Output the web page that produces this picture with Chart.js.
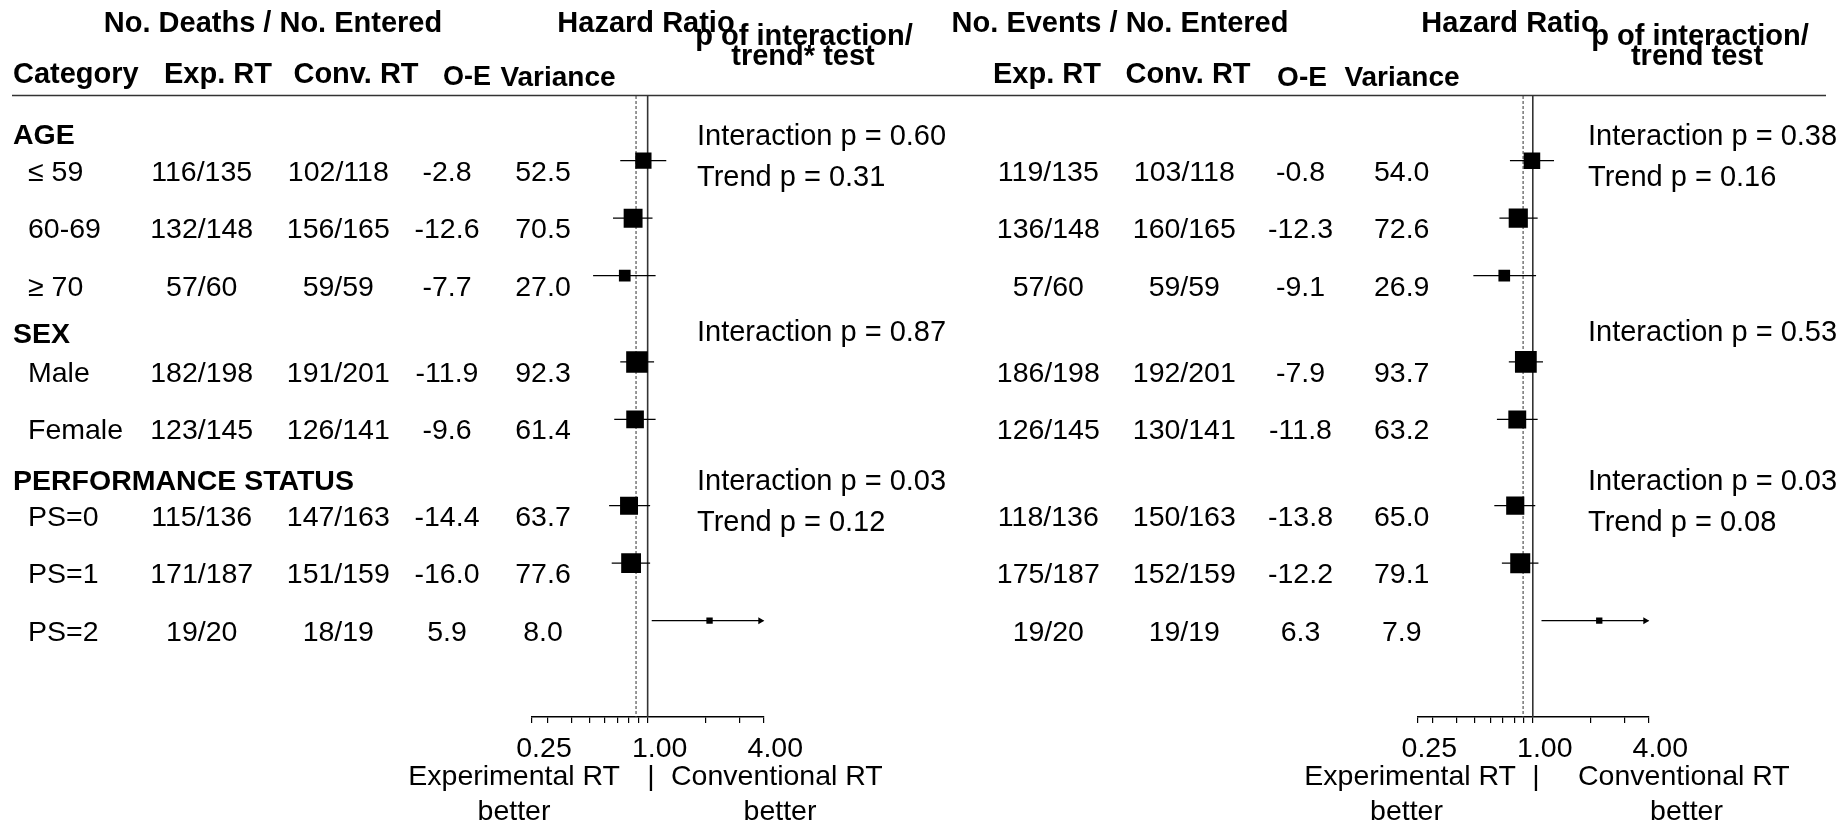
<!DOCTYPE html>
<html>
<head>
<meta charset="utf-8">
<title>Forest plot - deaths and events by subgroup</title>
<script src="https://cdn.jsdelivr.net/npm/chart.js@4.4.1/dist/chart.umd.min.js"></script>
<style>
  html, body { margin: 0; padding: 0; background: #fff; }
  #wrap { position: relative; width: 1842px; height: 825px; overflow: hidden; }
  #wrap canvas { position: absolute; left: 0; top: 0; }
</style>
</head>
<body>
<div id="wrap">
  <canvas id="deathsChart" width="1842" height="825"></canvas>
  <canvas id="eventsChart" width="1842" height="825"></canvas>
</div>
<script>
// ---- data ----
const categories = ['\u2264 59', '60-69', '\u2265 70', 'Male', 'Female', 'PS=0', 'PS=1', 'PS=2'];
const groups = ['AGE', 'SEX', 'PERFORMANCE STATUS'];

// left panel: deaths
const deathsExp = ['116/135', '132/148', '57/60', '182/198', '123/145', '115/136', '171/187', '19/20'];
const deathsConv = ['102/118', '156/165', '59/59', '191/201', '126/141', '147/163', '151/159', '18/19'];
const deathsOE = ['-2.8', '-12.6', '-7.7', '-11.9', '-9.6', '-14.4', '-16.0', '5.9'];
const deathsVar = [52.5, 70.5, 27.0, 92.3, 61.4, 63.7, 77.6, 8.0];
const deathsHR = [0.95, 0.84, 0.76, 0.88, 0.86, 0.80, 0.82, 2.10];
const deathsLo = [0.72, 0.66, 0.52, 0.72, 0.67, 0.63, 0.65, 1.05];
const deathsHi = [1.25, 1.06, 1.10, 1.08, 1.10, 1.03, 1.03, 4.18];
const deathsOverall = 0.87;
const deathsP = ['Interaction p = 0.60', 'Trend p = 0.31', 'Interaction p = 0.87', 'Interaction p = 0.03', 'Trend p = 0.12'];

// right panel: events
const eventsExp = ['119/135', '136/148', '57/60', '186/198', '126/145', '118/136', '175/187', '19/20'];
const eventsConv = ['103/118', '160/165', '59/59', '192/201', '130/141', '150/163', '152/159', '19/19'];
const eventsOE = ['-0.8', '-12.3', '-9.1', '-7.9', '-11.8', '-13.8', '-12.2', '6.3'];
const eventsVar = [54.0, 72.6, 26.9, 93.7, 63.2, 65.0, 79.1, 7.9];
const eventsHR = [0.99, 0.84, 0.71, 0.92, 0.83, 0.81, 0.86, 2.22];
const eventsLo = [0.76, 0.67, 0.49, 0.75, 0.65, 0.63, 0.69, 1.11];
const eventsHi = [1.29, 1.06, 1.04, 1.13, 1.06, 1.03, 1.07, 4.46];
const eventsOverall = 0.89;
const eventsP = ['Interaction p = 0.38', 'Trend p = 0.16', 'Interaction p = 0.53', 'Interaction p = 0.03', 'Trend p = 0.08'];

// axis ticks
const tickValues = [0.25, 0.3, 0.4, 0.5, 0.6, 0.7, 0.8, 0.9, 1, 2, 3, 4];
const tickLabels = ['0.25', '', '', '', '', '', '', '', '1.00', '', '', '4.00'];

// ---- layout (row units on the y scale, pixels for columns) ----
const rowPos = [0, 1, 2, 3.5, 4.5, 6, 7, 8];
const groupPos = [-0.43, 3.03, 5.59];
const pPos = [-0.41, 0.30, 3.0, 5.59, 6.30];
const TEXT_SHIFT = 0.21;
const FONT = "'Liberation Sans', Arial, Helvetica, sans-serif";
const W = 1842, H = 825;

const panels = [
  {
    id: 'deathsChart',
    axisLeft: 532, axisRight: 763.3,
    exp: deathsExp, conv: deathsConv, oe: deathsOE, variance: deathsVar,
    hr: deathsHR, lo: deathsLo, hi: deathsHi, overall: deathsOverall, pTexts: deathsP,
    cols: [201.7, 338.3, 447, 543],
    pX: 697,
    showCategories: true,
    headers: [
      ['No. Deaths / No. Entered', 273, 24, 'center', 29],
      ['Hazard Ratio', 646, 24, 'center', 29],
      ['p of interaction/', 804, 37, 'center', 29],
      ['trend* test', 803, 57, 'center', 29],
      ['Category', 13, 75, 'left', 29],
      ['Exp. RT', 218, 75, 'center', 29],
      ['Conv. RT', 356, 75, 'center', 29],
      ['O-E', 467, 78, 'center', 27],
      ['Variance', 558, 78, 'center', 28]
    ],
    footer: { exp: 620, bar: 651, conv: 671, better1: 514, better2: 780 }
  },
  {
    id: 'eventsChart',
    axisLeft: 1417.3, axisRight: 1648.3,
    exp: eventsExp, conv: eventsConv, oe: eventsOE, variance: eventsVar,
    hr: eventsHR, lo: eventsLo, hi: eventsHi, overall: eventsOverall, pTexts: eventsP,
    cols: [1048.3, 1184.3, 1300.5, 1401.7],
    pX: 1588,
    showCategories: false,
    headers: [
      ['No. Events / No. Entered', 1120, 24, 'center', 29],
      ['Hazard Ratio', 1510, 24, 'center', 29],
      ['p of interaction/', 1700, 37, 'center', 29],
      ['trend test', 1697, 57, 'center', 29],
      ['Exp. RT', 1047, 75, 'center', 29],
      ['Conv. RT', 1188, 75, 'center', 29],
      ['O-E', 1302, 78, 'center', 28],
      ['Variance', 1402, 78, 'center', 28]
    ],
    footer: { exp: 1516, bar: 1536, conv: 1578, better1: 1406.5, better2: 1686.5 }
  }
];

function txt(ctx, s, x, y, align, size, bold) {
  ctx.font = (bold ? 'bold ' : '') + size + 'px ' + FONT;
  ctx.textAlign = align;
  ctx.textBaseline = 'middle';
  ctx.fillText(s, x, y);
}

// table text, header rule and footer labels
function tablePlugin(p) {
  return {
    id: 'table_' + p.id,
    beforeDatasetsDraw(chart) {
      if (!p.showCategories) return;
      const ctx = chart.ctx;
      ctx.save();
      ctx.strokeStyle = '#333';
      ctx.lineWidth = 1.5;
      ctx.beginPath();
      ctx.moveTo(12, chart.chartArea.top - 0.5);
      ctx.lineTo(1826, chart.chartArea.top - 0.5);
      ctx.stroke();
      ctx.restore();
    },
    afterDraw(chart) {
      const ctx = chart.ctx;
      const ys = chart.scales.y;
      ctx.save();
      ctx.fillStyle = '#000';
      p.headers.forEach(h => txt(ctx, h[0], h[1], h[2], h[3], h[4], true));

      if (p.showCategories) {
        groups.forEach((g, i) => txt(ctx, g, 13, ys.getPixelForValue(groupPos[i]), 'left', 28.5, true));
      }
      rowPos.forEach((r, i) => {
        const y = ys.getPixelForValue(r + TEXT_SHIFT);
        if (p.showCategories) txt(ctx, categories[i], 28, y, 'left', 28.5, false);
        txt(ctx, p.exp[i], p.cols[0], y, 'center', 28.5, false);
        txt(ctx, p.conv[i], p.cols[1], y, 'center', 28.5, false);
        txt(ctx, p.oe[i], p.cols[2], y, 'center', 28.5, false);
        txt(ctx, p.variance[i].toFixed(1), p.cols[3], y, 'center', 28.5, false);
      });
      p.pTexts.forEach((s, i) => txt(ctx, s, p.pX, ys.getPixelForValue(pPos[i]), 'left', 29, false));

      const f = p.footer;
      txt(ctx, 'Experimental RT', f.exp, 777, 'right', 28.5, false);
      txt(ctx, '|', f.bar, 777, 'center', 28.5, false);
      txt(ctx, 'Conventional RT', f.conv, 777, 'left', 28.5, false);
      txt(ctx, 'better', f.better1, 812, 'center', 28.5, false);
      txt(ctx, 'better', f.better2, 812, 'center', 28.5, false);
      ctx.restore();
    }
  };
}

// arrow heads where the CI runs past the axis
function arrowPlugin(p) {
  return {
    id: 'arrow_' + p.id,
    afterDatasetsDraw(chart) {
      const xs = chart.scales.x, ys = chart.scales.y;
      const ctx = chart.ctx;
      ctx.save();
      ctx.fillStyle = '#000';
      p.hi.forEach((h, i) => {
        if (h <= xs.max) return;
        const x = xs.getPixelForValue(xs.max);
        const y = ys.getPixelForValue(rowPos[i]);
        ctx.beginPath();
        ctx.moveTo(x + 1, y);
        ctx.lineTo(x - 5, y - 3.5);
        ctx.lineTo(x - 5, y + 3.5);
        ctx.closePath();
        ctx.fill();
      });
      ctx.restore();
    }
  };
}

function makeForest(p) {
  const yMin = -1.125, yMax = 9.675;
  const datasets = [];

  // squares, size from variance
  datasets.push({
    data: rowPos.map((r, i) => ({ x: p.hr[i], y: r })),
    pointStyle: 'rect',
    pointRadius: p.variance.map(v => 2.25 * Math.sqrt(v) / Math.SQRT2),
    pointHoverRadius: p.variance.map(v => 2.25 * Math.sqrt(v) / Math.SQRT2),
    backgroundColor: '#000',
    borderColor: '#000',
    borderWidth: 0,
    order: 0
  });

  // confidence intervals
  rowPos.forEach((r, i) => {
    datasets.push({
      data: [{ x: p.lo[i], y: r }, { x: p.hi[i], y: r }],
      showLine: true,
      pointRadius: 0,
      borderColor: '#000',
      borderWidth: 1.2,
      order: 1
    });
  });

  // no effect line
  datasets.push({
    data: [{ x: 1, y: yMin }, { x: 1, y: yMax }],
    showLine: true, pointRadius: 0,
    borderColor: '#333', borderWidth: 1.6, order: 2
  });
  // overall estimate
  datasets.push({
    data: [{ x: p.overall, y: yMin }, { x: p.overall, y: yMax }],
    showLine: true, pointRadius: 0,
    borderColor: '#444', borderWidth: 1.1, borderDash: [3, 2], order: 2
  });

  return new Chart(document.getElementById(p.id), {
    type: 'scatter',
    data: { datasets: datasets },
    options: {
      responsive: false,
      animation: false,
      events: [],
      layout: { padding: { left: p.axisLeft, right: W - p.axisRight, top: 96, bottom: 0 } },
      plugins: { legend: { display: false }, tooltip: { enabled: false } },
      scales: {
        x: {
          type: 'logarithmic',
          min: 0.25,
          max: 4,
          position: 'bottom',
          afterBuildTicks: s => { s.ticks = tickValues.map(v => ({ value: v })); },
          afterFit: s => { s.height = 108; },
          grid: { drawOnChartArea: false, drawTicks: true, tickLength: 6, color: '#000', lineWidth: 1.2 },
          border: { display: true, color: '#000', width: 1.4 },
          ticks: {
            autoSkip: false, maxRotation: 0, minRotation: 0,
            padding: 9, labelOffset: 12,
            color: '#000',
            font: { family: FONT, size: 28.5 },
            callback: (value) => {
              const k = tickValues.indexOf(value);
              return k >= 0 ? tickLabels[k] : '';
            }
          }
        },
        y: { type: 'linear', display: false, min: yMin, max: yMax, reverse: true }
      }
    },
    plugins: [tablePlugin(p), arrowPlugin(p)]
  });
}

panels.forEach(makeForest);
</script>
</body>
</html>
